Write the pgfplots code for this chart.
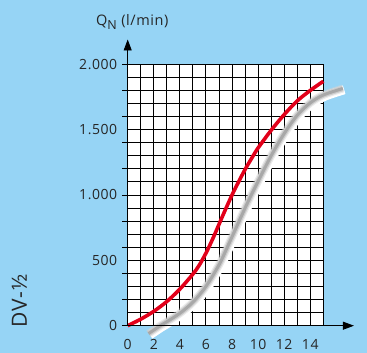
\documentclass[border=0pt]{standalone}
\usepackage{pgfplots}
\pgfplotsset{compat=1.18}
\usepackage{fontspec}
\setmainfont{Open Sans}[LetterSpace=4]
\usetikzlibrary{arrows.meta}
\definecolor{bgblue}{RGB}{150,212,245}
\definecolor{redline}{RGB}{226,0,26}

\pgfplotstableread{
x y
1.6 -60
2.5 0
3 30
4 95
5 180
6 300
7 465
7.5 570
8 680
8.5 790
9 900
9.5 1005
10 1105
11 1300
12 1470
13 1610
14 1705
15 1765
16.5 1815
}\graydata

\pgfplotstableread{
x y
0 0
1 50
2 110
3 185
4 280
5 395
5.5 465
6 555
6.5 660
7 775
7.5 890
8 1000
8.5 1100
9 1195
9.5 1280
10 1360
11 1495
12 1615
13 1720
14 1800
15 1870
}\reddata

\begin{document}
\begin{tikzpicture}[x=1pt,y=1pt]
\fill[bgblue] (0,0) rectangle (367,353);
\useasboundingbox (0,0) rectangle (367,353);
\begin{axis}[
  at={(127.7pt,27.3pt)}, anchor=south west,
  scale only axis, width=195.6pt, height=261.4pt,
  xmin=0, xmax=15, ymin=0, ymax=2000,
  clip=false,
  axis line style={draw=none},
  axis background/.style={fill=white},
  xtick={0,2,...,14},
  minor xtick={0,1,...,15},
  ytick={0,500,...,2000},
  yticklabels={0,500,1.000,1.500,2.000},
  minor ytick={0,100,...,2000},
  grid=both,
  major grid style={black, line width=0.9pt},
  minor grid style={black, line width=0.9pt},
  major tick length=0pt, minor tick length=0pt,
  ytick pos=left, xtick pos=bottom,
  extra y ticks={0,200,...,2000},
  extra y tick labels={},
  extra y tick style={grid=none, major tick length=5.5pt, tick align=outside, tick style={black, line width=0.9pt}},
  /pgf/number format/assume math mode=true,
  tick label style={font=\fontsize{14}{14}\selectfont, text=black!85},
  xticklabel style={yshift=-10pt},
  yticklabel style={xshift=-7pt},
]
\addplot[white, line width=9pt, smooth, transform canvas={xshift=1.3pt,yshift=-1.3pt}] table {\graydata};
\addplot[gray!35, line width=8pt, smooth, opacity=0.45] table {\graydata};
\addplot[gray!55, line width=5.5pt, smooth, opacity=0.6] table {\graydata};
\addplot[gray!75, line width=3pt, smooth, opacity=0.8] table {\graydata};
\addplot[redline, line width=3.6pt, smooth] table {\reddata};
\draw[black, line width=0.9pt, -{Triangle[length=11pt,width=8pt]}] (axis cs:0,0) -- (axis cs:17.35,0);
\draw[black, line width=0.9pt, -{Triangle[length=11pt,width=8pt]}] (axis cs:0,0) -- (axis cs:0,2190);
\end{axis}
\node[anchor=base west, inner sep=0pt, text=black!85, font=\fontsize{14.5}{14.5}\selectfont] at (96,327) {Q\raisebox{-0.45ex}{\fontsize{12.5}{12.5}\selectfont N} (l/min)};
\node[rotate=90, inner sep=0pt, text=black!85, font=\fontsize{21}{21}\selectfont] at (19.5,52) {DV-½};
\end{tikzpicture}
\end{document}
